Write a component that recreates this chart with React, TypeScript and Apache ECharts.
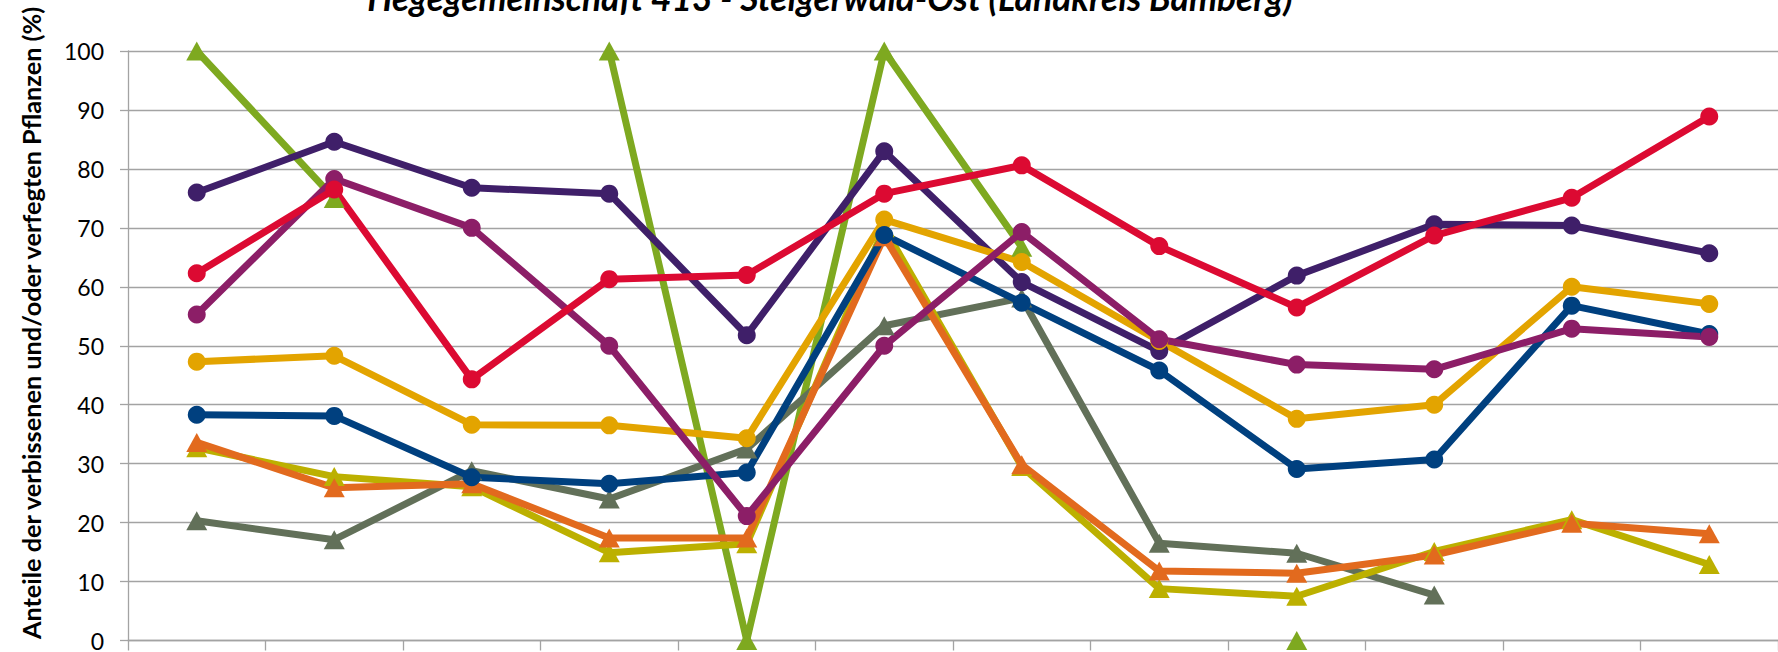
import React, { useEffect, useRef } from "react";
import * as echarts from "echarts";

const titleText = "Hegegemeinschaft 413 - Steigerwald-Ost (Landkreis Bamberg)";
const yAxisName = "Anteile der verbissenen und/oder verfegten Pflanzen (%)";

const categories = ["1991", "1994", "1997", "2000", "2003", "2006", "2009", "2012", "2015", "2018", "2021", "2024"];

const seriesPurple = [76.0, 84.6, 76.8, 75.8, 51.8, 83.0, 60.8, 49.1, 61.9, 70.6, 70.4, 65.7];
const seriesRed = [62.3, 76.5, 44.3, 61.3, 62.0, 75.8, 80.6, 66.9, 56.5, 68.7, 75.1, 88.9];
const seriesMagenta = [55.3, 78.3, 70.0, 50.0, 21.1, 50.0, 69.3, 51.1, 46.8, 46.0, 52.9, 51.5];
const seriesGold = [47.3, 48.3, 36.6, 36.5, 34.3, 71.4, 64.2, 50.8, 37.6, 40.0, 60.0, 57.1];
const seriesBlue = [38.3, 38.1, 27.7, 26.6, 28.5, 68.8, 57.3, 45.8, 29.1, 30.7, 56.8, 52.0];
const seriesGreen = [100, 75, null, 100, 0, 100, 66.7, null, 0, null, null, null];
const seriesGray = [20.3, 17.1, 28.8, 24.0, 32.5, 53.4, 58.1, 16.5, 14.8, 7.7, null, null];
const seriesYellow = [32.7, 27.8, 26.1, 14.9, 16.4, 70.0, 29.5, 8.8, 7.5, 15.1, 20.5, 12.9];
const seriesOrange = [33.6, 25.9, 26.6, 17.4, 17.4, 68.5, 29.8, 11.8, 11.4, 14.5, 19.9, 18.1];

function measure(text: string, font: string): number {
  const c = document.createElement("canvas").getContext("2d");
  if (!c) return 0;
  c.font = font;
  return c.measureText(text).width;
}

function fitSize(text: string, style: string, family: string, target: number): number {
  const base = 30;
  const w = measure(text, `${style} ${base}px ${family}`);
  if (!w) return base;
  return (base * target) / w;
}

function mk(name: string, data: (number | null)[], color: string, symbol: string, size: number | number[]) {
  return {
    type: "line",
    name,
    data,
    symbol,
    symbolSize: size,
    showAllSymbol: true,
    clip: false,
    connectNulls: false,
    lineStyle: { color, width: 7 },
    itemStyle: { color, borderWidth: 0 },
    emphasis: { disabled: true },
  };
}

export default function App() {
  const ref = useRef<HTMLDivElement>(null);
  useEffect(() => {
    document.body.style.margin = "0";
    if (!ref.current) return;
    const chart = echarts.init(ref.current, undefined, { renderer: "svg" });
    const titleSize = fitSize(titleText, "italic bold", "Lato", 926);
    const nameSize = fitSize(yAxisName, "bold", "Lato", 635);
    const gridColor = "#A3A3A3";
    const tri = [21, 19];
    const circ = 18;
    chart.setOption({
      animation: false,
      backgroundColor: "#ffffff",
      grid: { left: 128, top: 51, width: 1663, height: 593, containLabel: false },
      graphic: [
        {
          type: "text",
          x: 830,
          y: 11 - 0.39 * titleSize,
          style: {
            text: titleText,
            font: `italic bold ${titleSize}px Lato`,
            fill: "#000000",
            align: "center",
            verticalAlign: "middle",
          },
        },
        {
          type: "text",
          x: 31,
          y: 323,
          rotation: Math.PI / 2,
          style: {
            text: yAxisName,
            font: `bold ${nameSize}px Lato`,
            fill: "#000000",
            align: "center",
            verticalAlign: "middle",
          },
        },
      ],
      xAxis: {
        type: "category",
        data: categories,
        boundaryGap: true,
        axisLabel: { show: false },
        axisTick: { show: true, length: 10, lineStyle: { color: gridColor, width: 1.3 } },
        axisLine: { show: true, lineStyle: { color: gridColor, width: 1.3 } },
        splitLine: { show: false },
      },
      yAxis: {
        type: "value",
        min: 0,
        max: 100,
        interval: 10,
        axisLine: { show: true, lineStyle: { color: gridColor, width: 1.3 } },
        axisTick: { show: true, length: 8, lineStyle: { color: gridColor, width: 1.3 } },
        axisLabel: { margin: 24, fontSize: 23, fontFamily: "Lato", color: "#000000" },
        splitLine: { show: true, lineStyle: { color: gridColor, width: 1.3 } },
      },
      series: [
        mk("Tanne", seriesGreen, "#7EA920", "triangle", tri),
        mk("Kiefer", seriesGray, "#627059", "triangle", tri),
        mk("Fichte", seriesYellow, "#BCB000", "triangle", tri),
        mk("Lärche", seriesOrange, "#E26A1E", "triangle", tri),
        mk("Buche", seriesPurple, "#3F1F69", "circle", circ),
        mk("Sonstiges Laubholz", seriesGold, "#E3A400", "circle", circ),
        mk("Edellaubholz", seriesBlue, "#00407F", "circle", circ),
        mk("Ahorn", seriesMagenta, "#8C1E67", "circle", circ),
        mk("Eiche", seriesRed, "#DC0A32", "circle", circ),
      ],
    });
    return () => chart.dispose();
  }, []);
  return (
    <div
      ref={ref}
      style={{ position: "fixed", left: 0, top: 0, width: 1778, height: 652, background: "#fff" }}
    />
  );
}
